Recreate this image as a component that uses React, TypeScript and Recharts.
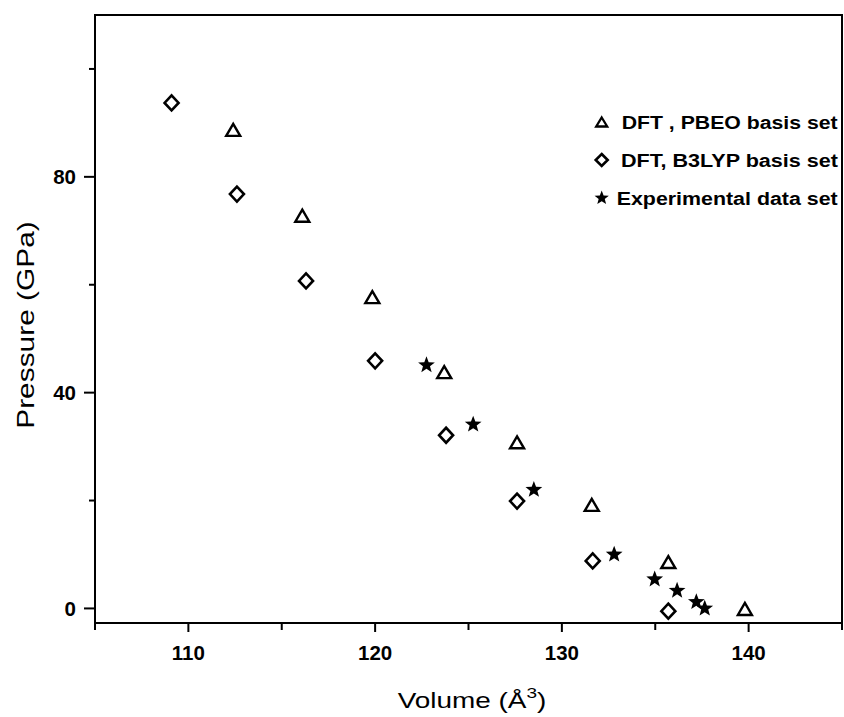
import React from 'react';
import { ScatterChart, Scatter, XAxis, YAxis, ReferenceArea, Legend } from 'recharts';

// DFT, PBE0 basis set (triangles)
const pbe0Volume = [112.4, 116.1, 119.85, 123.7, 127.6, 131.6, 135.7, 139.8];
const pbe0Pressure = [88.7, 72.8, 57.7, 43.8, 30.8, 19.2, 8.6, -0.1];
// DFT, B3LYP basis set (diamonds)
const b3lypVolume = [109.1, 112.6, 116.3, 120.0, 123.8, 127.6, 131.65, 135.7];
const b3lypPressure = [93.7, 76.8, 60.7, 45.9, 32.1, 19.9, 8.8, -0.5];
// Experimental data set (stars)
const expVolume = [122.75, 125.25, 128.5, 132.8, 134.97, 136.17, 137.2, 137.65];
const expPressure = [45.1, 34.1, 22.0, 10.0, 5.4, 3.3, 1.2, 0.0];

const xTicks = [105, 110, 115, 120, 125, 130, 135, 140, 145];
const xLabeled = [110, 120, 130, 140];
const yTicks = [0, 20, 40, 60, 80, 100];
const yLabeled = [0, 40, 80];
const xDomain: [number, number] = [105, 145];
const yDomain: [number, number] = [-2.7, 110];

const legendLabels = ['DFT , PBEO basis set', 'DFT, B3LYP basis set', 'Experimental data set'];

const FONT = '"Liberation Sans", Arial, Helvetica, sans-serif';

const pbe0Data = pbe0Volume.map((v, i) => ({ x: v, y: pbe0Pressure[i] }));
const b3lypData = b3lypVolume.map((v, i) => ({ x: v, y: b3lypPressure[i] }));
const expData = expVolume.map((v, i) => ({ x: v, y: expPressure[i] }));

const trianglePts = (cx: number, cy: number, w: number, h: number) =>
  `${cx},${cy - h / 2} ${cx + w / 2},${cy + h / 2} ${cx - w / 2},${cy + h / 2}`;
const diamondPts = (cx: number, cy: number, w: number, h: number) =>
  `${cx},${cy - h / 2} ${cx + w / 2},${cy} ${cx},${cy + h / 2} ${cx - w / 2},${cy}`;
const starPath = (cx: number, cy: number, R: number, r: number) => {
  const pts: string[] = [];
  for (let i = 0; i < 10; i++) {
    const rad = i % 2 === 0 ? R : r;
    const a = -Math.PI / 2 + (i * Math.PI) / 5;
    pts.push(`${cx + rad * Math.cos(a)},${cy + rad * Math.sin(a)}`);
  }
  return 'M' + pts.join('L') + 'Z';
};

const TriangleMark = (p: any) => (
  <polygon points={trianglePts(p.cx, p.cy, 14, 12)} fill="none" stroke="#000" strokeWidth={2.4} strokeLinejoin="miter" />
);
const DiamondMark = (p: any) => (
  <polygon points={diamondPts(p.cx, p.cy, 14, 15)} fill="none" stroke="#000" strokeWidth={2.6} />
);
const StarMark = (p: any) => <path d={starPath(p.cx, p.cy, 8.8, 3.7)} fill="#000" />;

const XTick = (props: any) => {
  const { x, y, payload } = props;
  const v = payload.value;
  const major = xLabeled.includes(v);
  return (
    <g>
      <line x1={x} x2={x} y1={y} y2={y + (major ? 9 : 7)} stroke="#000" strokeWidth={2} />
      {major && (
        <text x={x} y={y + 37} textAnchor="middle" fontFamily={FONT} fontWeight="bold" fontSize={20.5} fill="#000">
          {v}
        </text>
      )}
    </g>
  );
};

const YTick = (props: any) => {
  const { x, y, payload } = props;
  const v = payload.value;
  const major = yLabeled.includes(v);
  return (
    <g>
      <line x1={x} x2={x - (major ? 11 : 6)} y1={y} y2={y} stroke="#000" strokeWidth={2} />
      {major && (
        <text x={x - 19} y={y + 7.5} textAnchor="end" fontFamily={FONT} fontWeight="bold" fontSize={20.5} fill="#000">
          {v}
        </text>
      )}
    </g>
  );
};

const XTitle = (props: any) => {
  const vb = props.viewBox || { x: 95, y: 623, width: 747, height: 94 };
  const cx = vb.x + vb.width / 2 + 3.5;
  const by = vb.y + 85;
  return (
    <g transform={`translate(${cx},${by}) scale(1.27,1)`}>
      <text x={0} y={0} textAnchor="middle" fontFamily={FONT} fontSize={22} fill="#000">
        Volume (Å<tspan fontSize={15} dy={-10}>3</tspan><tspan dy={10}>)</tspan>
      </text>
    </g>
  );
};

const YTitle = (props: any) => {
  const vb = props.viewBox || { x: 0, y: 15, width: 95, height: 608 };
  const cy = vb.y + vb.height / 2 + 6;
  const bx = 34;
  return (
    <g transform={`translate(${bx},${cy}) rotate(-90) scale(1.3,1)`}>
      <text x={0} y={0} textAnchor="middle" fontFamily={FONT} fontSize={23} fill="#000">
        Pressure (GPa)
      </text>
    </g>
  );
};

const LegendBox = () => {
  const rows = [
    { y: 17, tx: 31.7, len: 216 },
    { y: 55, tx: 31, len: 217 },
    { y: 93, tx: 26.7, len: 221 },
  ];
  return (
    <svg width={252} height={110} style={{ display: 'block', overflow: 'visible' }}>
      <polygon points={trianglePts(11.7, rows[0].y, 11, 9)} fill="none" stroke="#000" strokeWidth={2.3} />
      <polygon points={diamondPts(11.7, rows[1].y, 12, 12)} fill="none" stroke="#000" strokeWidth={2.6} />
      <path d={starPath(11.7, rows[2].y, 7.5, 3.2)} fill="#000" />
      {rows.map((r, i) => (
        <text
          key={i}
          x={r.tx}
          y={r.y + 6.5}
          fontFamily={FONT}
          fontWeight="bold"
          fontSize={18}
          fill="#000"
          textLength={r.len}
          lengthAdjust="spacingAndGlyphs"
        >
          {legendLabels[i]}
        </text>
      ))}
    </svg>
  );
};

export default function App() {
  return (
    <div style={{ position: 'absolute', left: 0, top: 0, width: 844, height: 717, overflow: 'hidden', background: '#fff' }}>
      <ScatterChart width={844} height={717} margin={{ top: 15, right: 2, left: 0, bottom: 0 }}>
        <XAxis
          type="number"
          dataKey="x"
          domain={xDomain}
          ticks={xTicks}
          interval={0}
          allowDataOverflow
          height={94}
          tickSize={0}
          tickMargin={0}
          tickLine={false}
          axisLine={{ stroke: '#000', strokeWidth: 2 }}
          tick={<XTick />}
          label={{ content: (p: any) => <XTitle {...p} /> }}
        />
        <YAxis
          type="number"
          dataKey="y"
          domain={yDomain}
          ticks={yTicks}
          interval={0}
          allowDataOverflow
          width={95}
          tickSize={0}
          tickMargin={0}
          tickLine={false}
          axisLine={{ stroke: '#000', strokeWidth: 2 }}
          tick={<YTick />}
          label={{ content: (p: any) => <YTitle {...p} /> }}
        />
        <ReferenceArea
          x1={xDomain[0]}
          x2={xDomain[1]}
          y1={yDomain[0]}
          y2={yDomain[1]}
          fill="none"
          fillOpacity={0}
          stroke="#000"
          strokeWidth={2}
          ifOverflow="visible"
        />
        <Legend
          layout="horizontal"
          verticalAlign="middle"
          align="center"
          wrapperStyle={{ position: 'absolute', left: 590, top: 105, width: 252, height: 110 }}
          content={() => <LegendBox />}
        />
        <Scatter name="DFT , PBEO basis set" data={pbe0Data} shape={(p: any) => <TriangleMark {...p} />} isAnimationActive={false} />
        <Scatter name="DFT, B3LYP basis set" data={b3lypData} shape={(p: any) => <DiamondMark {...p} />} isAnimationActive={false} />
        <Scatter name="Experimental data set" data={expData} shape={(p: any) => <StarMark {...p} />} isAnimationActive={false} />
      </ScatterChart>
    </div>
  );
}
